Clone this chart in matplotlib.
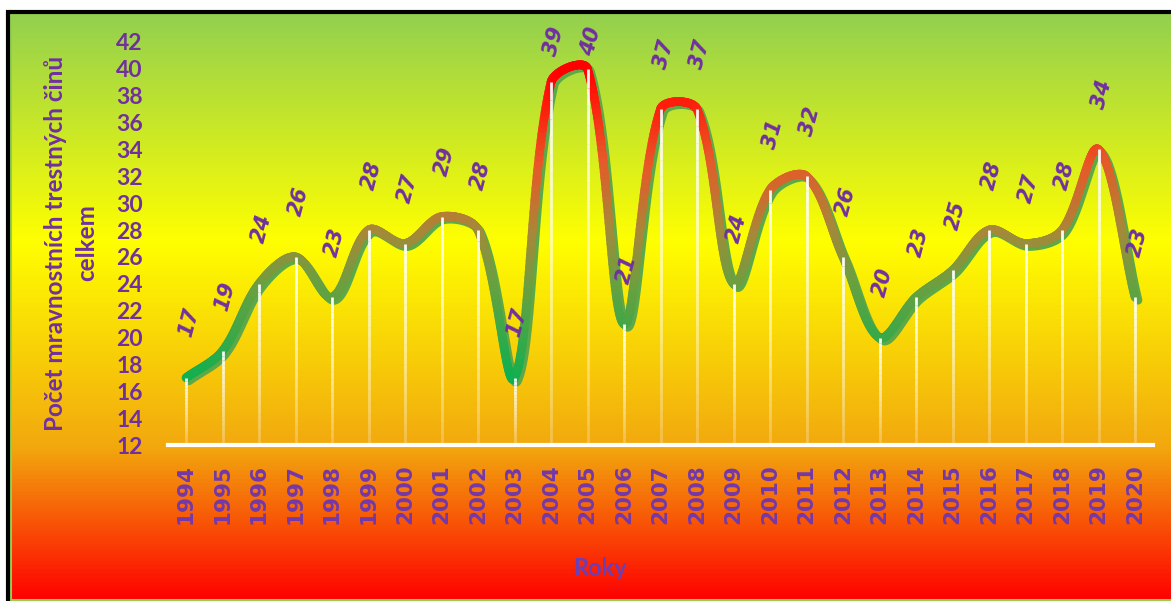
import numpy as np
import matplotlib.pyplot as plt
from matplotlib.collections import LineCollection
from matplotlib.colors import LinearSegmentedColormap
from matplotlib.transforms import offset_copy

# Počet mravnostních trestných činů podle roků
years = [str(y) for y in range(1994, 2021)]
values = [17, 19, 24, 26, 23, 28, 27, 29, 28, 17, 39, 40, 21, 37, 37,
          24, 31, 32, 26, 20, 23, 25, 28, 27, 28, 34, 23]

purple = '#7030A0'
W, H = 1171, 601

fig = plt.figure(figsize=(W / 100, H / 100), dpi=100)

# background gradient (green -> yellow -> orange -> red)
bg = fig.add_axes([0, 0, 1, 1])
bg.set_xlim(0, W)
bg.set_ylim(H, 0)
bg.axis('off')
bg_cmap = LinearSegmentedColormap.from_list(
    'bg', [(0, '#92D050'), (0.39, '#FFFF00'), (0.74, '#F2A80E'), (1.0, '#FF0000')])
grad = np.linspace(0, 1, 400).reshape(-1, 1)
bg.imshow(grad, cmap=bg_cmap, aspect='auto', extent=[10, W, H, 11], zorder=0)
bg.plot([10.5, 10.5], [11, H], color='#92D050', lw=1.5, zorder=1)
bg.plot([10, W], [H - 1, H - 1], color='#92D050', lw=1.5, zorder=1)
bg.plot([6, W], [11.5, 11.5], color='black', lw=3, zorder=2, solid_capstyle='butt')
bg.plot([8, 8], [10, H], color='black', lw=3, zorder=2, solid_capstyle='butt')

# plot area
left, right, top, bottom = 167.75, 1153.25, 42, 445
ax = fig.add_axes([left / W, (H - bottom) / H, (right - left) / W, (bottom - top) / H])
ax.patch.set_alpha(0)
n = len(values)
x = np.arange(n)
ax.set_xlim(-0.5, n - 0.5)
ax.set_ylim(12, 42)
for s in ax.spines.values():
    s.set_visible(False)
ax.axhline(12, color='white', lw=3, zorder=2, clip_on=False)

ax.set_yticks(range(12, 43, 2))
ax.set_xticks(x)
ax.set_xticklabels(years, rotation=90, fontsize=15.5, fontweight='bold',
                   color='#7438A8', family='DejaVu Sans')
ax.tick_params(axis='x', length=0, pad=14)
ax.tick_params(axis='y', length=0, pad=18)
for t in ax.get_yticklabels():
    t.set_fontsize(16.5)
    t.set_fontweight('bold')
    t.set_color(purple)
    t.set_family('Lato')

# smoothed line (bezier, control points scaled by neighbouring chord lengths, pixel space)
sx = (right - left) / n
sy = (bottom - top) / 30.0
P = np.column_stack([x * sx, np.array(values) * sy])
c_out, c_in = np.zeros_like(P), np.zeros_like(P)
for i in range(n):
    a = P[max(i - 1, 0)]
    b = P[min(i + 1, n - 1)]
    d_prev = np.hypot(*(P[i] - a))
    d_next = np.hypot(*(b - P[i]))
    tot = d_prev + d_next
    c_out[i] = P[i] + (b - a) * d_next / (3 * tot)
    c_in[i] = P[i] - (b - a) * d_prev / (3 * tot)
pts = []
t = np.linspace(0, 1, 60)[:, None]
for i in range(n - 1):
    p0, p1, p2, p3 = P[i], c_out[i], c_in[i + 1], P[i + 1]
    seg = ((1 - t) ** 3) * p0 + 3 * ((1 - t) ** 2) * t * p1 + 3 * (1 - t) * t ** 2 * p2 + t ** 3 * p3
    pts.append(seg if i == 0 else seg[1:])
curve = np.vstack(pts)
cx = curve[:, 0] / sx
cy = curve[:, 1] / sy

# green shadow
shadow_tr = offset_copy(ax.transData, fig=fig, x=3, y=-3, units='dots')
ax.plot(cx, cy, color='#5FA848', lw=6.3, transform=shadow_tr, zorder=3,
        solid_capstyle='round')

# line coloured by value: green low, red high
line_cmap = LinearSegmentedColormap.from_list(
    'line', [(0, '#10B050'), (0.3, '#6AA040'), (0.48, '#A88838'),
             (0.7, '#E85828'), (0.9, '#FF1A0A'), (1.0, '#FF0000')])
segs = np.stack([np.column_stack([cx[:-1], cy[:-1]]),
                 np.column_stack([cx[1:], cy[1:]])], axis=1)
mid = (cy[:-1] + cy[1:]) / 2
lc = LineCollection(segs, cmap=line_cmap, norm=plt.Normalize(17, 40),
                    linewidths=6.3, capstyle='round', zorder=4)
lc.set_array(mid)
ax.add_collection(lc)

# white drop lines fading towards the bottom
drop_segs, drop_cols = [], []
for xi, v in zip(x, values):
    ys = np.linspace(v, 12, 21)
    for k in range(20):
        drop_segs.append([(xi, ys[k]), (xi, ys[k + 1])])
        drop_cols.append((1, 1, 1, 0.95 - 0.7 * k / 19))
ax.add_collection(LineCollection(drop_segs, colors=drop_cols, linewidths=2, zorder=5))

# data labels
fig.canvas.draw()
for xi, v in zip(x, values):
    px, py = ax.transData.transform((xi, v))
    y_lab = min(py + 55, H - 41)
    dy = (y_lab - py) * 72 / 100
    ax.annotate(str(v), (xi, v), xytext=(3 * 0.72, dy), textcoords='offset points',
                ha='center', va='center', rotation=75, fontsize=15, style='italic',
                fontweight='bold', color=purple, family='DejaVu Sans', zorder=6,
                annotation_clip=False)

fig.text(71 / W, 1 - 243 / H, 'Počet mravnostních trestných činů\ncelkem',
         rotation=90, ha='center', va='center', multialignment='center',
         linespacing=1.45, fontsize=17.5, fontweight='bold', color=purple, family='Lato')
fig.text(600 / W, 1 - 568 / H, 'Roky', ha='center', va='center',
         fontsize=17, fontweight='bold', color='#6B3FB8', family='Lato')

fig.savefig('out.png', dpi=100)
